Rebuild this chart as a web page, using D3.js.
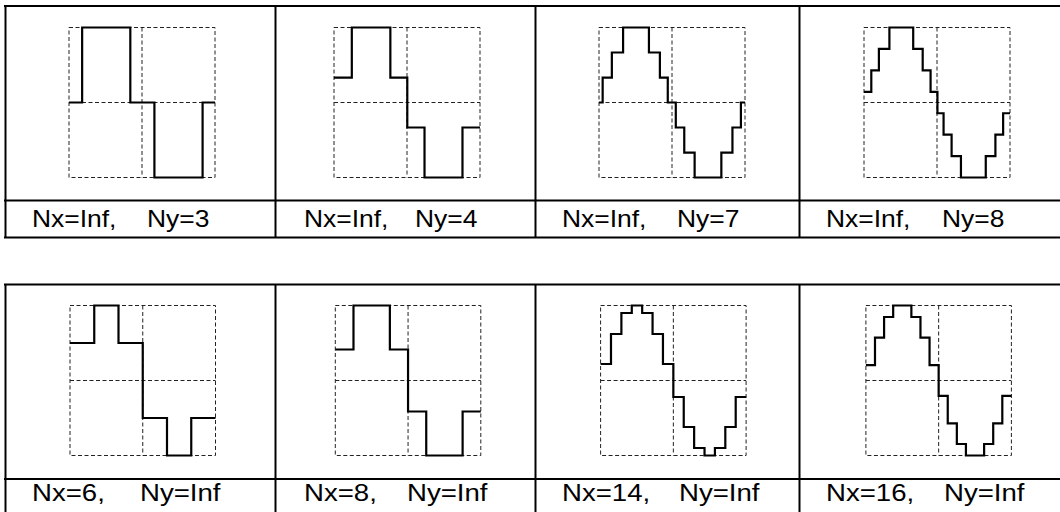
<!DOCTYPE html>
<html>
<head>
<meta charset="utf-8">
<script src="https://cdn.jsdelivr.net/npm/d3@7"></script>
<style>
  html, body { margin: 0; padding: 0; background: #fff; }
  svg { display: block; }
</style>
</head>
<body>
<svg id="chart" width="1060" height="512"></svg>
<script>
// top row: amplitude quantized (Nx=Inf), step edges as fraction of one period
var ny3Edges = [0, 0.09, 0.42, 0.585, 0.915, 1];
var ny3Levels = [0, 1, 0, -1, 0];
var ny4Edges = [0, 0.122, 0.386, 0.502, 0.62, 0.88, 1];
var ny4Levels = [0.333, 1, 0.333, -0.333, -1, -0.333];
var ny7Edges = [0, 0.025, 0.088, 0.165, 0.342, 0.417, 0.471, 0.526, 0.584, 0.655, 0.838, 0.914, 0.972, 1];
var ny7Levels = [0, 0.333, 0.667, 1, 0.667, 0.333, 0, -0.333, -0.667, -1, -0.667, -0.333, 0];
var ny8Edges = [0, 0.05, 0.102, 0.174, 0.337, 0.402, 0.456, 0.503, 0.545, 0.6, 0.664, 0.834, 0.9, 0.953, 1];
var ny8Levels = [0.143, 0.429, 0.714, 1, 0.714, 0.429, 0.143, -0.143, -0.429, -0.714, -1, -0.714, -0.429, -0.143];

// bottom row: time sampled (Ny=Inf), held sample values
var nx6Values = [0.5, 1, 0.5, -0.5, -1, -0.5];
var nx8Values = [0.38, 0.92, 0.92, 0.38, -0.38, -0.92, -0.92, -0.38];
var nx14Values = [0.22, 0.62, 0.9, 1, 0.9, 0.62, 0.22, -0.22, -0.62, -0.9, -1, -0.9, -0.62, -0.22];
var nx16Values = [0.2, 0.56, 0.83, 0.98, 0.98, 0.83, 0.56, 0.2, -0.2, -0.56, -0.83, -0.98, -0.98, -0.83, -0.56, -0.2];

var topLabels = [["Nx=Inf,", "Ny=3"], ["Nx=Inf,", "Ny=4"], ["Nx=Inf,", "Ny=7"], ["Nx=Inf,", "Ny=8"]];
var bottomLabels = [["Nx=6,", "Ny=Inf"], ["Nx=8,", "Ny=Inf"], ["Nx=14,", "Ny=Inf"], ["Nx=16,", "Ny=Inf"]];

var svg = d3.select("#chart");
var colX = [5, 275, 535, 799, 1062];
var labelX = [32, 304, 562, 826];
var topGap = [115, 111, 115, 116];
var bottomGap = [108, 103, 117, 118];

function equalEdges(n) {
  return d3.range(n + 1).map(function(i) { return i / n; });
}

var topPanels = [
  {edges: ny3Edges, levels: ny3Levels},
  {edges: ny4Edges, levels: ny4Levels},
  {edges: ny7Edges, levels: ny7Levels},
  {edges: ny8Edges, levels: ny8Levels}
];
var bottomPanels = [nx6Values, nx8Values, nx14Values, nx16Values].map(function(v) {
  return {edges: equalEdges(v.length), levels: v};
});

function drawTable(top, divider, bottom) {
  var g = svg.append("g").attr("stroke", "#000").attr("stroke-width", 2);
  [top, divider].concat(bottom < 512 ? [bottom] : []).forEach(function(y) {
    g.append("line").attr("x1", colX[0] - 1).attr("x2", 1062).attr("y1", y).attr("y2", y);
  });
  colX.slice(0, 4).forEach(function(x) {
    g.append("line").attr("x1", x + 0.5).attr("x2", x + 0.5).attr("y1", top).attr("y2", bottom);
  });
}

function drawPanel(p, left, top, w, h) {
  var x = d3.scaleLinear().domain([0, 1]).range([left, left + w]);
  var ext = d3.extent(p.levels);
  var m = Math.max(Math.abs(ext[0]), Math.abs(ext[1]));
  var y = d3.scaleLinear().domain([-m, m]).range([top + h, top]);

  var g = svg.append("g");
  var grid = g.append("g").attr("fill", "none").attr("stroke", "#222")
    .attr("stroke-width", 1).attr("stroke-dasharray", "4,2.5");
  grid.append("rect").attr("x", x(0)).attr("y", y(m)).attr("width", x(1) - x(0)).attr("height", y(-m) - y(m));
  grid.append("line").attr("x1", x(0.5)).attr("x2", x(0.5)).attr("y1", y(m)).attr("y2", y(-m));
  grid.append("line").attr("x1", x(0)).attr("x2", x(1)).attr("y1", y(0)).attr("y2", y(0));

  var pts = p.levels.map(function(v, i) { return [p.edges[i], v]; });
  pts.push([1, p.levels[p.levels.length - 1]]);
  var line = d3.line()
    .x(function(d) { return x(d[0]); })
    .y(function(d) { return y(d[1]); })
    .curve(d3.curveStepAfter);
  g.append("path").attr("d", line(pts)).attr("fill", "none")
    .attr("stroke", "#000").attr("stroke-width", 2.2).attr("stroke-linejoin", "miter");
}

function drawLabel(parts, x, gap, y, size) {
  var t = svg.append("text")
    .attr("transform", "translate(" + x + "," + y + ") scale(1.15,1)")
    .attr("font-family", "'Liberation Sans', Arial, sans-serif")
    .attr("font-size", size)
    .attr("fill", "#000");
  t.append("tspan").attr("x", 0).text(parts[0]);
  t.append("tspan").attr("x", gap / 1.15).text(parts[1]);
}

// top table
drawTable(6, 200.5, 237.5);
topPanels.forEach(function(p, i) {
  drawPanel(p, 69 + 265 * i, 27.5, 146, 150);
  drawLabel(topLabels[i], labelX[i], topGap[i], 227, 23);
});

// bottom table
drawTable(284.5, 479, 520);
bottomPanels.forEach(function(p, i) {
  drawPanel(p, 70 + 265.3 * i, 305.5, 145.5, 150);
  drawLabel(bottomLabels[i], labelX[i], bottomGap[i], 501, 24);
});
</script>
</body>
</html>
